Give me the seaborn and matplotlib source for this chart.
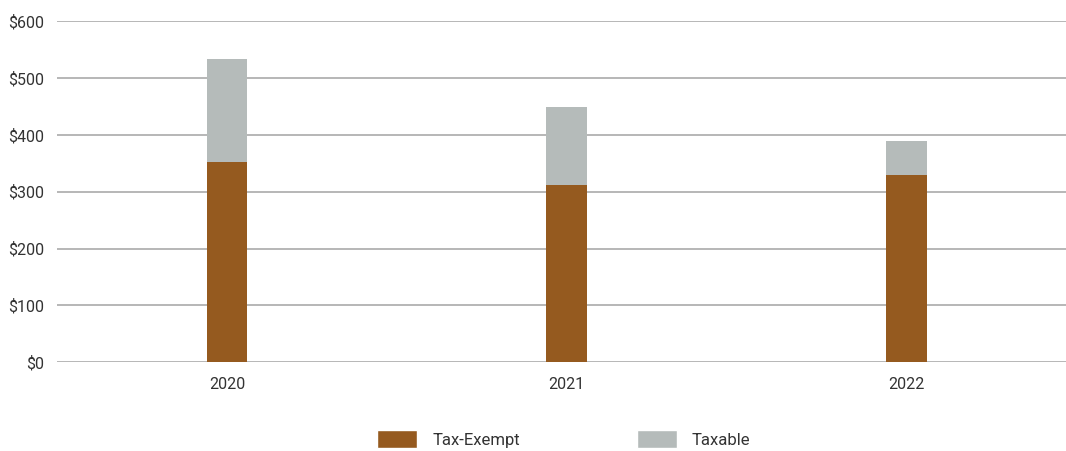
import matplotlib
matplotlib.use("Agg")
import matplotlib.pyplot as plt
import seaborn as sns
import pandas as pd
from matplotlib.patches import Patch

years = ["2020", "2021", "2022"]
tax_exempt = [352, 311, 329]
taxable = [181, 138, 60]
yticks = [0, 100, 200, 300, 400, 500, 600]
ytick_labels = ["$0", "$100", "$200", "$300", "$400", "$500", "$600"]

sns.set_theme(style="white")
plt.rcParams['font.family'] = ['Roboto', 'DejaVu Sans']

brown = "#955A1F"
grey = "#B5BBBA"
text_c = "#333333"

df = pd.DataFrame({"year": years, "exempt": tax_exempt,
                   "total": [a + b for a, b in zip(tax_exempt, taxable)]})

fig = plt.figure(figsize=(10.66, 4.51), dpi=100)
ax = fig.add_axes([0.0535, 0.197, 0.9465, 0.756])

sns.barplot(data=df, x="year", y="total", color=grey, width=0.12, saturation=1,
            linewidth=0, ax=ax, zorder=3)
sns.barplot(data=df, x="year", y="exempt", color=brown, width=0.12, saturation=1,
            linewidth=0, ax=ax, zorder=3)

ax.set_ylim(0, 600)
ax.set_xlim(-0.5, 2.47)
ax.set_yticks(yticks)
ax.set_yticklabels(ytick_labels)
ax.yaxis.grid(True, color="#AAAAAA", linewidth=1.2, zorder=0)
ax.set_axisbelow(True)
for s in ax.spines.values():
    s.set_visible(False)
ax.tick_params(axis="both", length=0, labelsize=11.5, labelcolor=text_c)
ax.tick_params(axis="y", pad=9)
ax.tick_params(axis="x", pad=11)
ax.set_xlabel("")
ax.set_ylabel("")

handles = [Patch(facecolor=brown, label="Tax-Exempt"), Patch(facecolor=grey, label="Taxable")]
fig.legend(handles=handles, loc="lower center", bbox_to_anchor=(0.529, -0.027), ncol=2,
           frameon=False, fontsize=12, labelcolor=text_c, handlelength=2.4, handleheight=1.3,
           columnspacing=7.0, handletextpad=0.9)

fig.savefig("out.png", dpi=100)
